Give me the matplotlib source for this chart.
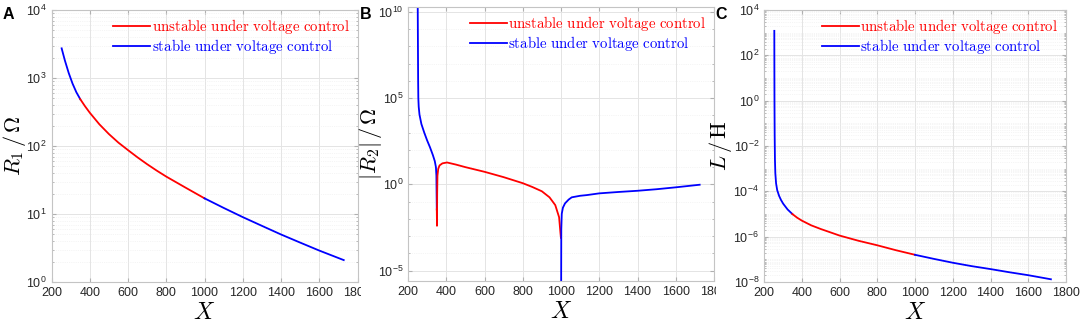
import numpy as np
import matplotlib
matplotlib.use('Agg')
import matplotlib.pyplot as plt
from matplotlib.ticker import LogLocator, FixedLocator, NullFormatter
from matplotlib.transforms import Bbox, TransformedBbox

plt.rcParams['font.family'] = ['Liberation Sans', 'DejaVu Sans']
plt.rcParams['mathtext.fontset'] = 'cm'

RED = '#ff0000'
BLUE = '#0000ff'

# ---- panel A : R1 (Ohm) ----
a_x1 = [253, 270, 290, 310, 330, 350]
a_y1 = [2730, 1810, 1185, 828, 617, 490]
a_x2 = [350, 375, 400, 450, 500, 550, 600, 650, 700, 750, 800, 900, 1000]
a_y2 = [490, 385, 309, 209, 150, 112, 87, 68, 54, 43.5, 35.5, 24.5, 17]
a_x3 = [1000, 1100, 1200, 1300, 1400, 1500, 1600, 1728]
a_y3 = [17, 12.3, 9.0, 6.7, 5.0, 3.8, 2.9, 2.1]

# ---- panel B : |R2| (Ohm) ----
b_x1 = [250, 251, 252, 253, 254, 256, 260, 270, 285, 300, 315, 330, 340, 346, 348.5, 350.5]
b_y1 = [1e12, 1e10, 1e8, 1e6, 10**5.0, 10**4.5, 10**4.05, 10**3.5, 10**3.0, 10**2.55,
        10**2.15, 10**1.7, 10**1.35, 10**1.0, 10**0.5, 10**-1.45]
b_x2 = [350.5, 351.5, 352.5, 354, 358, 365, 380, 404, 450, 500, 600, 700, 800, 850,
        900, 940, 970, 990, 997, 999.6]
b_y2 = [10**-1.45, 10**-2.4, 10**-0.5, 10**0.5, 10**0.9, 10**1.1, 10**1.22, 10**1.27,
        10**1.15, 10**1.0, 10**0.73, 10**0.42, 10**0.07, 10**-0.15, 10**-0.4, 10**-0.75,
        10**-1.2, 10**-1.9, 10**-2.8, 10**-3.1]
b_x3 = [1000.3, 1001.5, 1004, 1010, 1021, 1040, 1056, 1100, 1135, 1200, 1300, 1400,
        1500, 1600, 1725]
b_y3 = [1e-8, 10**-2.6, 10**-1.7, 10**-1.35, 10**-1.1, 10**-0.88, 10**-0.75, 10**-0.66,
        10**-0.62, 10**-0.52, 10**-0.44, 10**-0.37, 10**-0.28, 10**-0.17, 10**-0.02]

# ---- panel C : L (H) ----
c_x1 = [254.6, 255, 255.5, 256.5, 258, 260, 264, 270, 280, 290, 302, 325, 350]
c_y1 = [10**3.08, 10**1.5, 1.0, 10**-1.5, 10**-2.6, 10**-3.2, 10**-3.65, 10**-3.95,
        10**-4.2, 10**-4.38, 10**-4.55, 10**-4.8, 10**-5.0]
c_x2 = [350, 375, 400, 450, 500, 600, 700, 800, 900, 1000]
c_y2 = [10**-5.0, 10**-5.16, 10**-5.29, 10**-5.5, 10**-5.66, 10**-5.95, 10**-6.18,
        10**-6.38, 10**-6.6, 10**-6.8]
c_x3 = [1000, 1100, 1200, 1300, 1400, 1500, 1600, 1720]
c_y3 = [10**-6.8, 10**-6.98, 10**-7.15, 10**-7.3, 10**-7.43, 10**-7.57, 10**-7.7, 10**-7.88]

xticks = [200, 400, 600, 800, 1000, 1200, 1400, 1600, 1800]
labels = [r'$\mathrm{unstable\ under\ voltage\ control}$',
          r'$\mathrm{stable\ under\ voltage\ control}$']


def style_axes(ax):
    ax.set_yscale('log')
    ax.set_xlim(200, 1800)
    ax.set_xticks(xticks)
    for s in ax.spines.values():
        s.set_color('#c4c4c4')
        s.set_linewidth(0.8)
    ax.tick_params(which='both', direction='in', top=True, right=True,
                   color='#b0b0b0', labelsize=9, labelcolor='#262626')
    ax.tick_params(which='major', length=3)
    ax.tick_params(which='minor', length=1.5)
    ax.grid(True, which='major', color='#e4e4e4', lw=0.7)
    ax.grid(True, which='minor', axis='y', color='#ececec', lw=0.5, ls=':')
    ax.set_axisbelow(True)
    ax.set_xlabel(r'$X$', fontsize=17, va='top')
    ax.xaxis.set_label_coords(0.5, -0.074)


def draw(ax, segs):
    hu = hs = None
    for xs, ys, c in segs:
        ln, = ax.plot(xs, ys, color=c, lw=1.3)
        if c == RED:
            hu = ln
        else:
            hs = ln
    leg = ax.legend([hu, hs], labels, loc='upper right', frameon=False,
                    fontsize=10.7, handlelength=2.5, handletextpad=0.1,
                    labelspacing=0.05, borderaxespad=0.2, borderpad=0.3)
    for t, c in zip(leg.get_texts(), [RED, BLUE]):
        t.set_color(c)


fig = plt.figure(figsize=(10.84, 3.23), dpi=100)
W, H = 1084.0, 323.0
axA = fig.add_axes([51.5 / W, (H - 282) / H, 306 / W, 272 / H])
axB = fig.add_axes([408 / W, (H - 281) / H, 306 / W, 274.3 / H])
axC = fig.add_axes([764 / W, (H - 282) / H, 302 / W, 272 / H])

# A
style_axes(axA)
draw(axA, [(a_x1, a_y1, BLUE), (a_x2, a_y2, RED), (a_x3, a_y3, BLUE)])
axA.set_ylim(1, 1e4)
axA.yaxis.set_major_locator(LogLocator(base=10, numticks=10))
axA.set_ylabel(r'$R_1\,/\,\Omega$', fontsize=16, va='center')
axA.yaxis.set_label_coords(-0.122, 0.5)

# B
style_axes(axB)
draw(axB, [(b_x1, b_y1, BLUE), (b_x2, b_y2, RED), (b_x3, b_y3, BLUE)])
axB.set_ylim(10**-5.6, 10**10.3)
axB.yaxis.set_major_locator(FixedLocator([1e-5, 1e0, 1e5, 1e10]))
axB.yaxis.set_minor_locator(FixedLocator([10.0**k for k in range(-5, 11)]))
axB.yaxis.set_minor_formatter(NullFormatter())
axB.set_ylabel(r'$|R_2|\,/\,\Omega$', fontsize=16, va='center')
axB.yaxis.set_label_coords(-0.124, 0.5)

# C
style_axes(axC)
draw(axC, [(c_x1, c_y1, BLUE), (c_x2, c_y2, RED), (c_x3, c_y3, BLUE)])
axC.set_ylim(1e-8, 1e4)
axC.yaxis.set_major_locator(FixedLocator([10.0**k for k in range(-8, 5, 2)]))
axC.yaxis.set_minor_locator(LogLocator(base=10, subs=np.arange(1, 10), numticks=30))
axC.yaxis.set_minor_formatter(NullFormatter())
axC.set_ylabel(r'$L\,/\,\mathrm{H}$', fontsize=16, va='center')
axC.yaxis.set_label_coords(-0.145, 0.5)

# panel letters
for x, lab in [(3, 'A'), (360, 'B'), (715, 'C')]:
    fig.text(x / W, 1 - 7 / H, lab, fontsize=11.5, fontweight='bold', va='top', ha='left')

# the neighbouring panel covers the "1800" label of A and B
for ax, xr in [(axA, 361), (axB, 716)]:
    cb = TransformedBbox(Bbox.from_extents(0, 0, xr / W, 1), fig.transFigure)
    for t in ax.get_xticklabels():
        t.set_clip_box(cb)
        t.set_clip_on(True)

fig.savefig('out.png', dpi=100)
